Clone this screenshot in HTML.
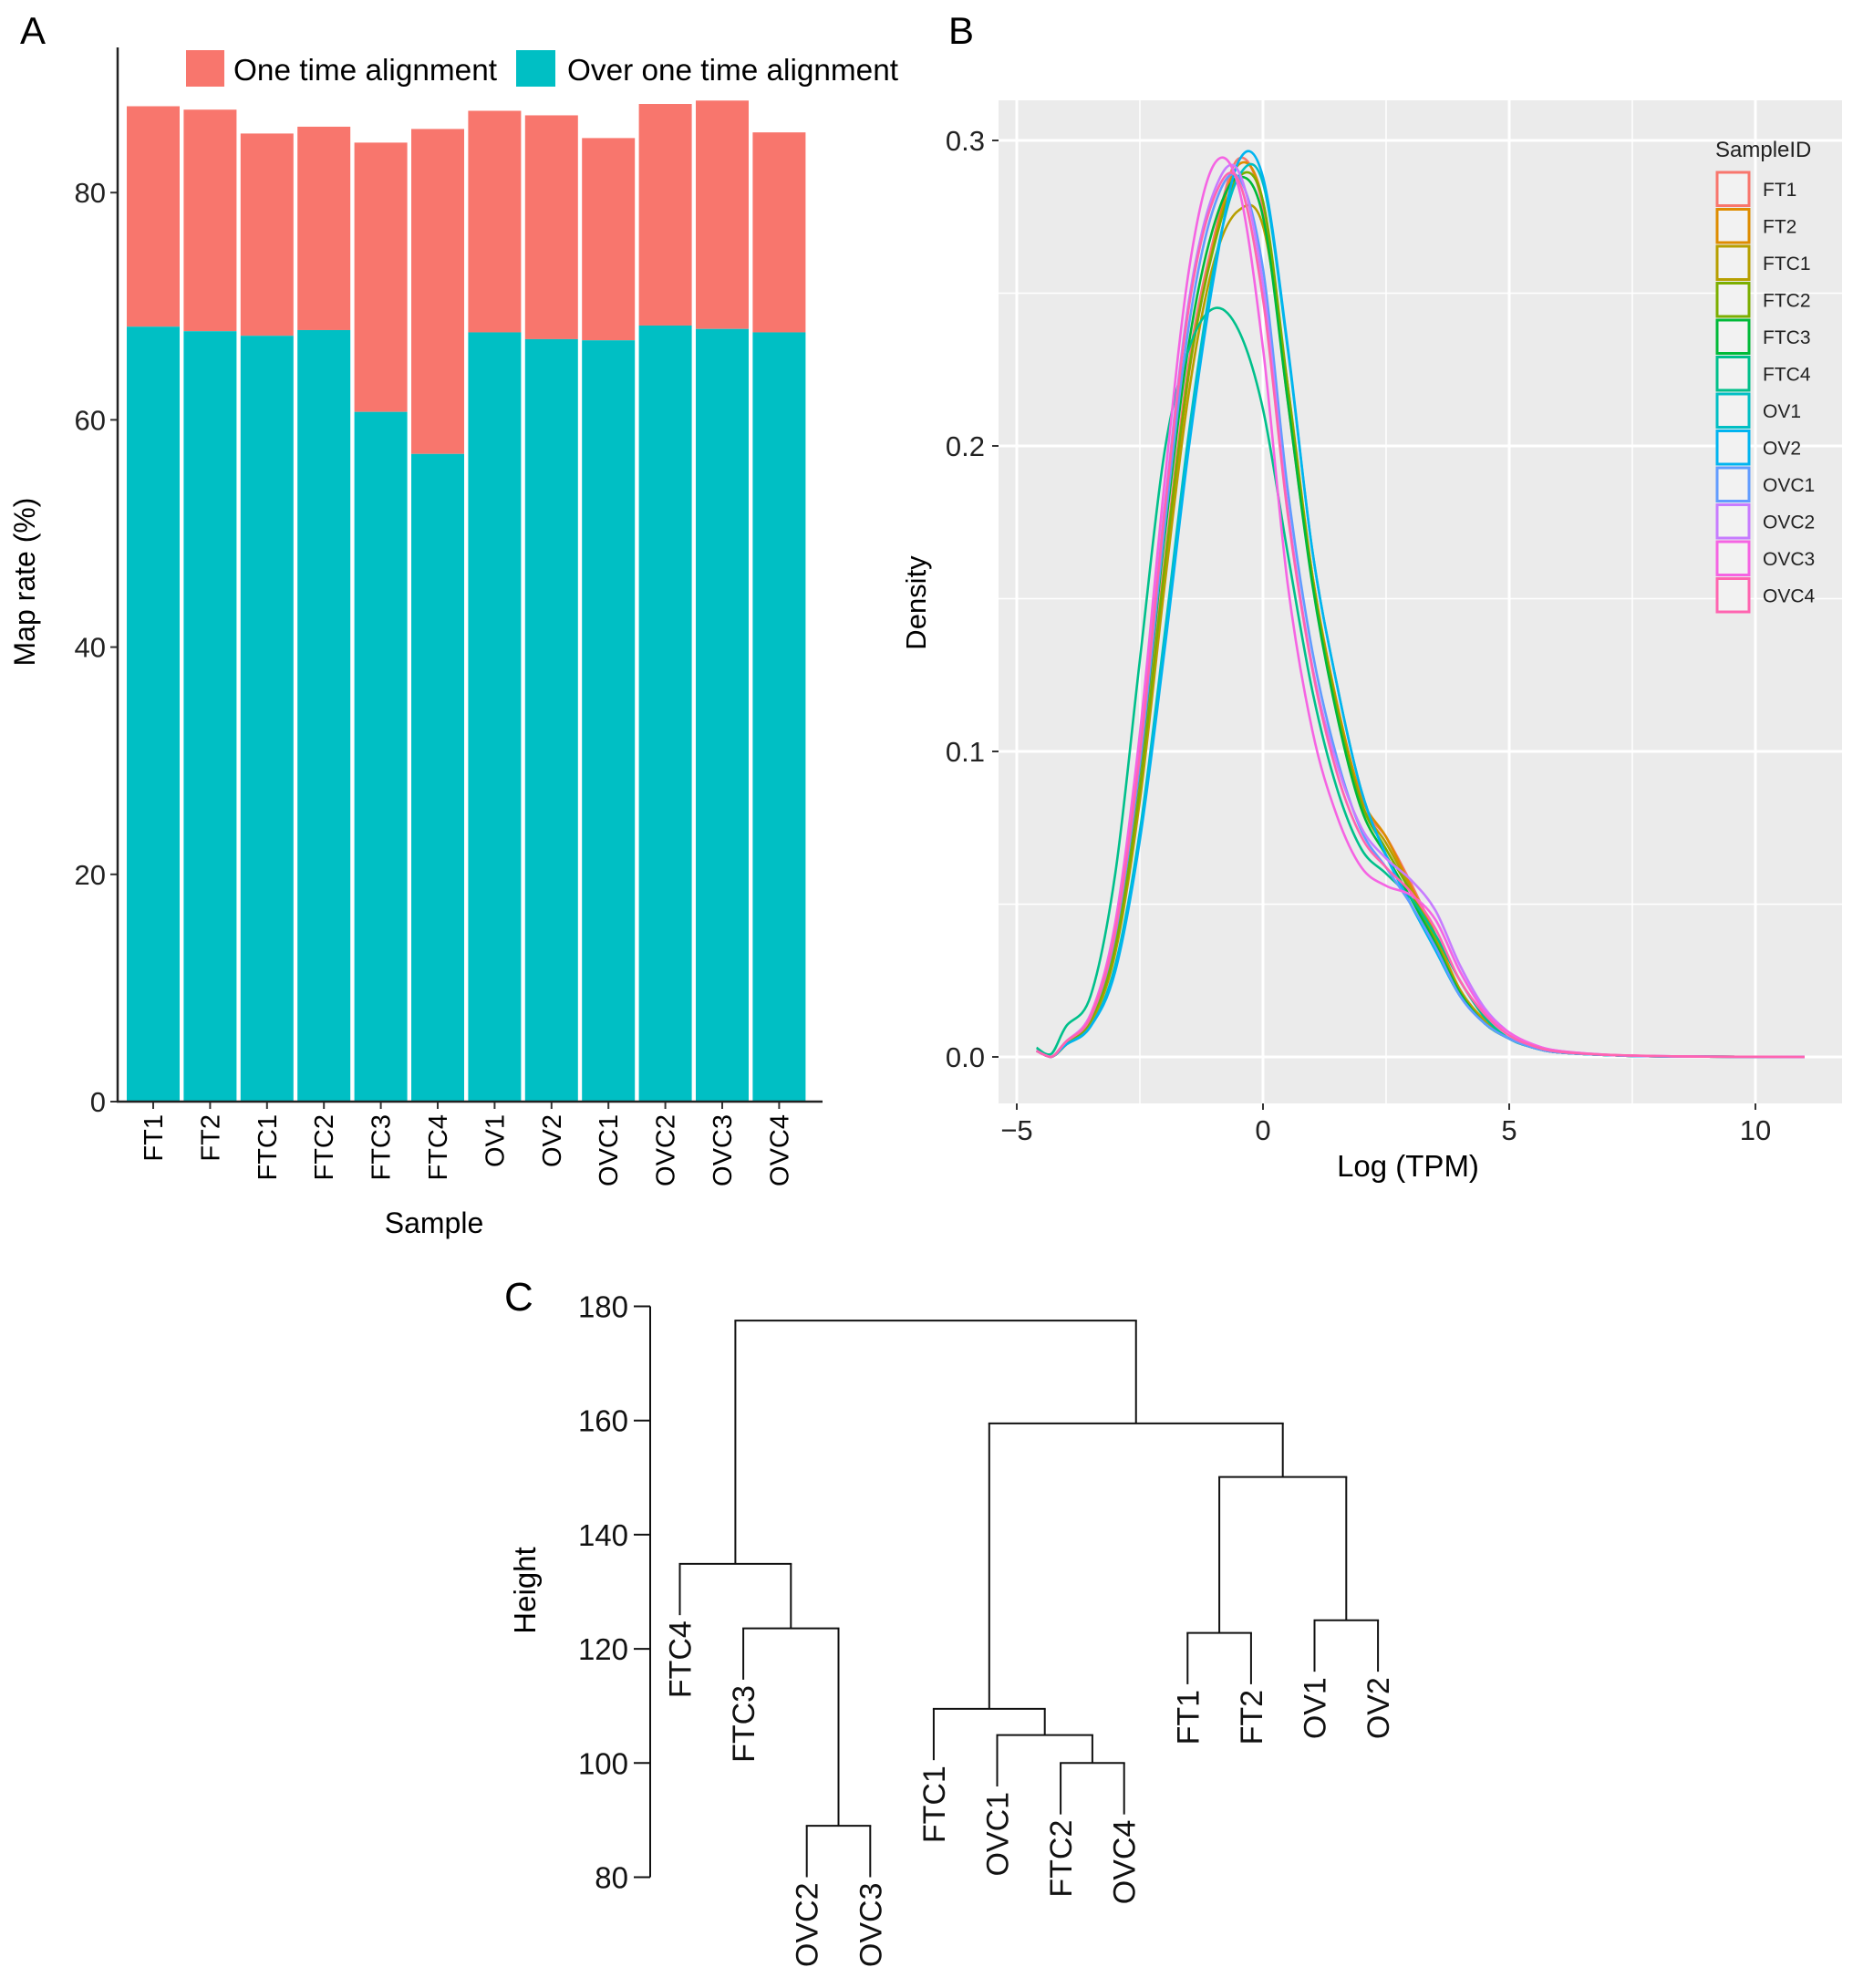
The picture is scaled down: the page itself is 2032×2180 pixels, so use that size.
<!DOCTYPE html>
<html><head><meta charset="utf-8"><style>
html,body{margin:0;padding:0;background:#fff;}
svg{display:block;font-family:"Liberation Sans",Arial,sans-serif;}
</style></head><body>
<svg id="fig" width="2032" height="2180" viewBox="0 0 2032 2180" xmlns="http://www.w3.org/2000/svg">
<g id="pa"></g>
<g id="pb"></g>
<g id="pc"></g>
</svg>
<script>
// ---------- Panel A data ----------
const samplesA = ["FT1","FT2","FTC1","FTC2","FTC3","FTC4","OV1","OV2","OVC1","OVC2","OVC3","OVC4"];
const totalRate = [87.6,87.3,85.2,85.8,84.4,85.6,87.2,86.8,84.8,87.8,88.1,85.3];
const overOneRate = [68.2,67.8,67.4,67.9,60.7,57.0,67.7,67.1,67.0,68.3,68.0,67.7];
const ticksA = [0,20,40,60,80];

// ---------- Panel B data ----------
const gridX = [-4.6,-4.3,-4,-3.5,-3,-2.5,-2,-1.5,-1,-0.5,0,0.5,1,1.5,2,2.5,3,3.5,4,4.5,5,5.5,6,7,8,9,11];
const seriesIds = ["FT1","FT2","FTC1","FTC2","FTC3","FTC4","OV1","OV2","OVC1","OVC2","OVC3","OVC4"];
const dFT1  = [.002,0,.004,.012,.038,.09,.162,.228,.268,.294,.278,.215,.156,.114,.083,.072,.057,.04,.022,.012,.006,.003,.0015,.0006,.0002,.0001,0];
const dFT2  = [.002,0,.004,.011,.035,.086,.158,.224,.266,.292,.28,.218,.158,.116,.085,.072,.056,.04,.022,.012,.006,.003,.0015,.0006,.0002,.0001,0];
const dFTC1 = [.002,0,.004,.011,.034,.084,.154,.218,.26,.277,.272,.22,.158,.115,.083,.07,.055,.039,.022,.012,.006,.003,.0015,.0006,.0002,.0001,0];
const dFTC2 = [.002,0,.004,.012,.036,.088,.16,.225,.265,.288,.28,.22,.157,.114,.083,.068,.054,.038,.021,.011,.006,.003,.0015,.0006,.0002,.0001,0];
const dFTC3 = [.002,0,.005,.013,.04,.095,.17,.234,.272,.288,.275,.215,.155,.112,.081,.066,.052,.037,.021,.011,.006,.003,.0015,.0006,.0002,.0001,0];
const dFTC4 = [.003,.001,.01,.02,.06,.13,.198,.232,.245,.238,.212,.165,.12,.088,.068,.06,.052,.04,.025,.013,.006,.003,.0015,.0006,.0002,.0001,0];
const dOV1  = [.002,0,.004,.01,.03,.074,.138,.205,.258,.288,.286,.232,.166,.122,.087,.066,.05,.035,.02,.011,.006,.003,.0015,.0006,.0002,.0001,0];
const dOV2  = [.002,0,.004,.01,.028,.071,.133,.2,.255,.293,.288,.233,.166,.122,.087,.066,.05,.035,.02,.011,.006,.003,.0015,.0006,.0002,.0001,0];
const dOVC1 = [.002,0,.005,.013,.04,.096,.173,.24,.278,.288,.258,.186,.133,.098,.074,.062,.05,.036,.02,.011,.006,.003,.0015,.0006,.0002,.0001,0];
const dOVC2 = [.002,0,.005,.014,.042,.1,.18,.248,.283,.29,.253,.18,.128,.096,.075,.065,.058,.048,.03,.016,.008,.004,.002,.0007,.0003,.0001,0];
const dOVC3 = [.002,0,.005,.014,.044,.106,.188,.258,.292,.285,.232,.155,.107,.079,.062,.056,.053,.045,.028,.015,.008,.004,.002,.0007,.0003,.0001,0];
const dOVC4 = [.002,0,.005,.013,.041,.099,.178,.246,.281,.287,.248,.178,.127,.093,.072,.062,.054,.042,.025,.014,.007,.0035,.0017,.0007,.0003,.0001,0];
const seriesDens = [dFT1,dFT2,dFTC1,dFTC2,dFTC3,dFTC4,dOV1,dOV2,dOVC1,dOVC2,dOVC3,dOVC4];
const ticksBx = [-5,0,5,10];
const ticksBy = [0,0.1,0.2,0.3];

// ---------- Panel C data ----------
const leafLabels = ["FTC4","FTC3","OVC2","OVC3","FTC1","OVC1","FTC2","OVC4","FT1","FT2","OV1","OV2"];
const mergeA = [-3,-7,-6,-5,-9,-2,-11,-1,5,4,8];
const mergeB = [-4,-8,2,3,-10,1,-12,6,7,9,10];
const mergeH = [89,100,104.9,109.5,122.8,123.6,125,134.9,150.1,159.5,177.5];
const ticksC = [80,100,120,140,160,180];

const NS="http://www.w3.org/2000/svg";
function mk(parent,tag,attrs,text){const e=document.createElementNS(NS,tag);for(const k in attrs)e.setAttribute(k,attrs[k]);if(text!==undefined)e.textContent=text;parent.appendChild(e);return e;}

// ===== Panel A =====
(function(){
const g=document.getElementById('pa');
const y0=1208, pxPer=249.2/20;
const ya=v=>y0-v*pxPer;
const left=139, step=62.4, bw=58;
const xa=i=>left+i*step;
let t=mk(g,'text',{x:22,y:48,'font-size':42},'A');


samplesA.forEach((s,i)=>{
  let r=mk(g,'rect',{x:xa(i),y:ya(totalRate[i]),width:bw,height:ya(overOneRate[i])-ya(totalRate[i]),fill:'#F8766D'});
  
  
  let r2=mk(g,'rect',{x:xa(i),y:ya(overOneRate[i]),width:bw,height:y0-ya(overOneRate[i]),fill:'#00BFC4'});
  
  
  const cx=xa(i)+bw/2;
  mk(g,'line',{x1:cx,y1:y0,x2:cx,y2:y0+8,stroke:'#333','stroke-width':2});
  let tl=mk(g,'text',{x:0,y:0,'font-size':29,'text-anchor':'end',transform:`translate(${cx+10},${y0+14}) rotate(-90)`},s);
  
  
});
ticksA.forEach(v=>{
  mk(g,'line',{x1:121,y1:ya(v),x2:129,y2:ya(v),stroke:'#333','stroke-width':2});
  let tl=mk(g,'text',{x:116,y:ya(v)+11,'font-size':31,'text-anchor':'end',fill:'#222'},v);
  
  
});
mk(g,'line',{x1:129,y1:52,x2:129,y2:y0+1,stroke:'#222','stroke-width':2.5});
mk(g,'line',{x1:128,y1:y0,x2:902,y2:y0,stroke:'#222','stroke-width':2.5});
let yt=mk(g,'text',{x:0,y:0,'font-size':32,'text-anchor':'middle',transform:'translate(38,638) rotate(-90)'},'Map rate (%)');


let xt=mk(g,'text',{x:476,y:1352,'font-size':32,'text-anchor':'middle'},'Sample');


let l1=mk(g,'rect',{x:204,y:55,width:42,height:40,fill:'#F8766D'});


let lt1=mk(g,'text',{x:256,y:88,'font-size':33,textLength:289,lengthAdjust:'spacingAndGlyphs'},'One time alignment');


let l2=mk(g,'rect',{x:566,y:55,width:43,height:40,fill:'#00BFC4'});


let lt2=mk(g,'text',{x:622,y:88,'font-size':33,textLength:363,lengthAdjust:'spacingAndGlyphs'},'Over one time alignment');


})();

// ===== Panel B =====
(function(){
const g=document.getElementById('pb');
const colors=['#F8766D','#DE8C00','#B79F00','#7CAE00','#00BA38','#00C08B','#00BFC4','#00B4F0','#619CFF','#C77CFF','#F564E3','#FF64B0'];
const xb=v=>1115+(v+5)*54;
const yb=v=>1159-v*3350;
let t=mk(g,'text',{x:1040,y:48,'font-size':42},'B');


let bg=mk(g,'rect',{x:1095,y:110,width:925,height:1100,fill:'#EBEBEB'});


[-2.5,2.5,7.5].forEach(v=>mk(g,'line',{x1:xb(v),y1:110,x2:xb(v),y2:1210,stroke:'#fff','stroke-width':1.5}));
[0.05,0.15,0.25].forEach(v=>mk(g,'line',{x1:1095,y1:yb(v),x2:2020,y2:yb(v),stroke:'#fff','stroke-width':1.5}));
ticksBx.forEach(v=>{
  mk(g,'line',{x1:xb(v),y1:110,x2:xb(v),y2:1210,stroke:'#fff','stroke-width':3});
  mk(g,'line',{x1:xb(v),y1:1210,x2:xb(v),y2:1217,stroke:'#333','stroke-width':2});
  let tl=mk(g,'text',{x:xb(v),y:1250,'font-size':31,'text-anchor':'middle',fill:'#222'},v<0?'\u2212'+(-v):v);
  
  
});
ticksBy.forEach(v=>{
  mk(g,'line',{x1:1095,y1:yb(v),x2:2020,y2:yb(v),stroke:'#fff','stroke-width':3});
  mk(g,'line',{x1:1088,y1:yb(v),x2:1095,y2:yb(v),stroke:'#333','stroke-width':2});
  let tl=mk(g,'text',{x:1080,y:yb(v)+11,'font-size':31,'text-anchor':'end',fill:'#222'},v.toFixed(1));
  
  
});
function smoothPath(xs,ys){
  const P=xs.map((x,i)=>[xb(x),yb(ys[i])]);
  let d=`M${P[0][0].toFixed(1)},${P[0][1].toFixed(1)}`;
  for(let i=0;i<P.length-1;i++){
    const p0=P[Math.max(0,i-1)],p1=P[i],p2=P[i+1],p3=P[Math.min(P.length-1,i+2)];
    const c1=[p1[0]+(p2[0]-p0[0])/6,p1[1]+(p2[1]-p0[1])/6];
    const c2=[p2[0]-(p3[0]-p1[0])/6,p2[1]-(p3[1]-p1[1])/6];
    c1[1]=Math.min(c1[1],yb(0));c2[1]=Math.min(c2[1],yb(0));
    d+=`C${c1[0].toFixed(1)},${c1[1].toFixed(1)} ${c2[0].toFixed(1)},${c2[1].toFixed(1)} ${p2[0].toFixed(1)},${p2[1].toFixed(1)}`;
  }
  return d;
}
seriesDens.forEach((ys,i)=>{
  let p=mk(g,'path',{d:smoothPath(gridX,ys),fill:'none',stroke:colors[i],'stroke-width':2.6});
  
  
});
let xt=mk(g,'text',{x:1544,y:1290,'font-size':33,'text-anchor':'middle'},'Log (TPM)');


let yt=mk(g,'text',{x:0,y:0,'font-size':31,'text-anchor':'middle',transform:'translate(1015,661) rotate(-90)'},'Density');


let lt=mk(g,'text',{x:1881,y:172,'font-size':24,fill:'#222'},'SampleID');


seriesIds.forEach((s,i)=>{
  const y=187+i*40.5;
  let k=mk(g,'rect',{x:1883,y:y+2,width:35,height:36.5,fill:'#F2F2F2',stroke:colors[i],'stroke-width':3});
  
  
  let tx=mk(g,'text',{x:1933,y:y+28,'font-size':21,fill:'#222'},s);
  
  
});
})();

// ===== Panel C =====
(function(){
const g=document.getElementById('pc');
const yc=v=>1432.5+(180-v)*6.26;
const xLeaf=i=>745.5+i*69.6;
const hang=9;
let t=mk(g,'text',{x:553,y:1437,'font-size':44},'C');


mk(g,'line',{x1:713,y1:yc(180),x2:713,y2:yc(80),stroke:'#111','stroke-width':2});
ticksC.forEach(v=>{
  mk(g,'line',{x1:695,y1:yc(v),x2:713,y2:yc(v),stroke:'#111','stroke-width':2});
  let tl=mk(g,'text',{x:689,y:yc(v)+12,'font-size':33,'text-anchor':'end',fill:'#111'},v);
  
  
});
let yt=mk(g,'text',{x:0,y:0,'font-size':33,'text-anchor':'middle',transform:'translate(587,1744) rotate(-90)'},'Height');


const nodeX=[],nodeH=[];
function pos(c){ if(c<0){return [xLeaf(-c-1),null,-c-1];} return [nodeX[c-1],nodeH[c-1],null]; }
mergeH.forEach((h,m)=>{
  const A=pos(mergeA[m]),B=pos(mergeB[m]);
  [A,B].forEach(P=>{
    let bottom;
    if(P[1]===null){
      const leafBottom=yc(mergeH[m]-hang);
      bottom=leafBottom;
      let lab=mk(g,'text',{x:0,y:0,'font-size':34,'text-anchor':'end',fill:'#111',transform:`translate(${P[0]+12},${leafBottom+6}) rotate(-90)`},leafLabels[P[2]]);
      
      
    } else bottom=yc(P[1]);
    let ln=mk(g,'line',{x1:P[0],y1:yc(h),x2:P[0],y2:bottom,stroke:'#111','stroke-width':2});
    
    
  });
  let hl=mk(g,'line',{x1:A[0]-1,y1:yc(h),x2:B[0]+1,y2:yc(h),stroke:'#111','stroke-width':2});
  
  
  nodeX.push((A[0]+B[0])/2); nodeH.push(h);
});
})();
</script>
</body></html>
